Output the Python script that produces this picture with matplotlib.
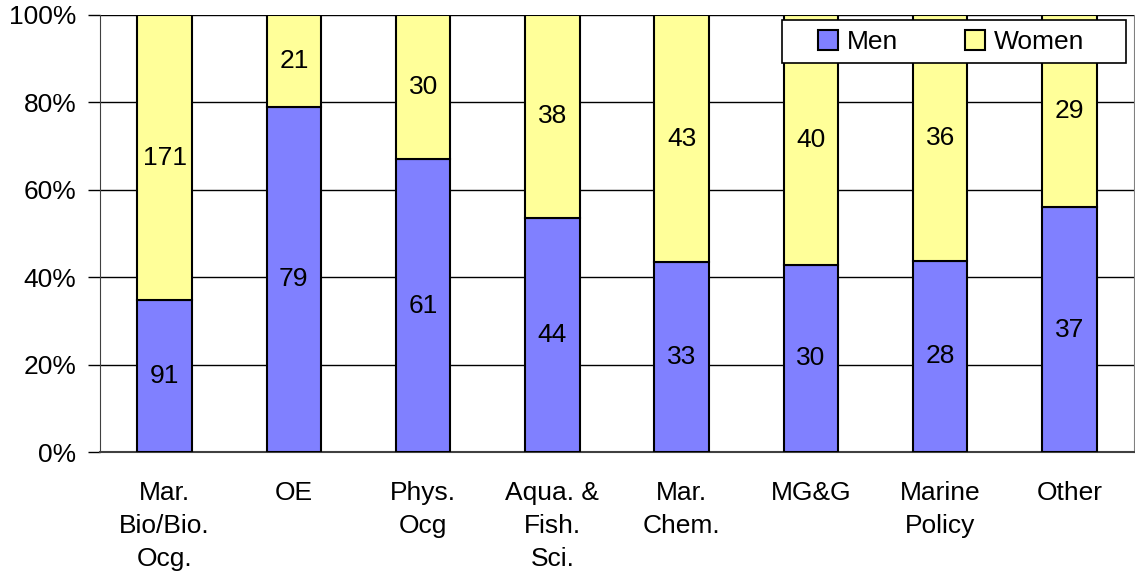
import numpy as np
import matplotlib.pyplot as plt
from matplotlib.patches import Rectangle

categories = ['Mar.\nBio/Bio.\nOcg.', 'OE', 'Phys.\nOcg', 'Aqua. &\nFish.\nSci.',
              'Mar.\nChem.', 'MG&G', 'Marine\nPolicy', 'Other']
men = [91, 79, 61, 44, 33, 30, 28, 37]
women = [171, 21, 30, 38, 43, 40, 36, 29]

plt.rcParams['font.family'] = ['Liberation Sans', 'DejaVu Sans']

men_a = np.array(men, dtype=float)
women_a = np.array(women, dtype=float)
total = men_a + women_a
men_p = men_a / total * 100
women_p = women_a / total * 100

W, H = 1135, 572
fig = plt.figure(figsize=(W / 100, H / 100), dpi=100)
ax = fig.add_axes([100 / W, 1 - 452 / H, 1034 / W, 437 / H])

x = np.arange(len(categories))
w = 0.42
fs = 19
ax.bar(x, men_p, w, color='#8080FF', edgecolor='black', linewidth=1.5, label='Men', zorder=3)
ax.bar(x, women_p, w, bottom=men_p, color='#FFFF99', edgecolor='black', linewidth=1.5,
       label='Women', zorder=3)

for i in range(len(categories)):
    ax.text(x[i], men_p[i] / 2, str(men[i]), ha='center', va='center', fontsize=fs, zorder=4)
    ax.text(x[i], men_p[i] + women_p[i] / 2, str(women[i]), ha='center', va='center',
            fontsize=fs, zorder=4)

ax.set_xlim(-0.5, len(categories) - 0.5)
ax.set_ylim(0, 100)
ax.set_yticks([0, 20, 40, 60, 80, 100])
ax.set_yticklabels(['0%', '20%', '40%', '60%', '80%', '100%'], fontsize=fs)
ax.yaxis.grid(True, color='black', linewidth=1)
ax.set_axisbelow(True)
ax.set_xticks(x)
ax.set_xticklabels(categories, fontsize=fs, linespacing=1.47)
ax.tick_params(axis='x', length=0, pad=21)
ax.tick_params(axis='y', length=9, width=1, direction='out', pad=8)
ax.spines['left'].set_color('#404040')
ax.spines['bottom'].set_color('#404040')
ax.spines['bottom'].set_linewidth(1.5)
ax.spines['right'].set_color('#808080')
ax.spines['top'].set_visible(False)

# legend box (white, black border) with the entries placed inside it
box = Rectangle((782 / W, 1 - 63 / H), 344 / W, 43 / H, transform=fig.transFigure,
                facecolor='white', edgecolor='black', linewidth=1.2, zorder=5)
fig.patches.append(box)
leg = fig.legend(*ax.get_legend_handles_labels(), loc='upper left',
                 bbox_to_anchor=(818 / W, 1 - 30 / H), bbox_transform=fig.transFigure,
                 borderaxespad=0, borderpad=0, ncol=2, fontsize=fs, frameon=False,
                 handlelength=0.76, handleheight=0.76, handletextpad=0.34,
                 columnspacing=2.54)
leg.set_zorder(6)

plt.savefig('out.png', dpi=100)
